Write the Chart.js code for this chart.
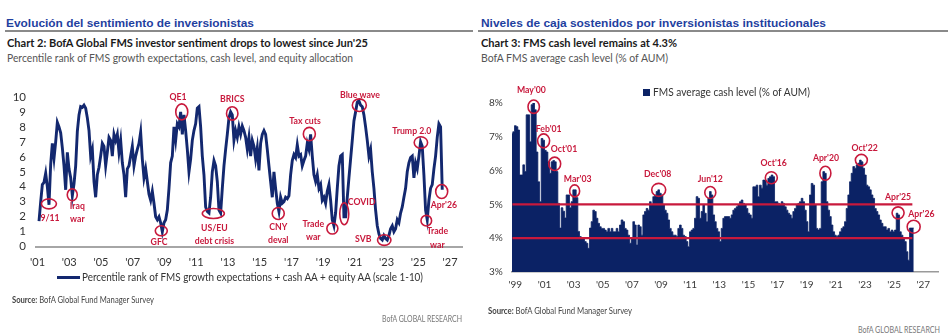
<!DOCTYPE html>
<html>
<head>
<meta charset="utf-8">
<script src="https://cdn.jsdelivr.net/npm/chart.js@4.4.1/dist/chart.umd.min.js"></script>
<style>
    body { margin: 0; width: 950px; height: 336px; position: relative; overflow: hidden; background: #fff; font-family: Lato, sans-serif; }
    .t { position: absolute; white-space: nowrap; line-height: 1; transform-origin: 0 50%; }
    .hdr { font-family: "Liberation Sans", Arial, sans-serif; font-weight: bold; font-size: 11.6px; color: #1f3f9f; top: 16.8px; }
    .ttl { font-weight: bold; font-size: 11.6px; color: #1a1a1a; top: 36.7px; }
    .sub { font-size: 11.6px; color: #555; top: 51.9px; }
    .src { font-size: 8.5px; color: #444; }
    .brand { font-size: 8.5px; color: #777; }
    .rule { position: absolute; top: 30px; height: 1.5px; background: #8a8a8a; }
    canvas { position: absolute; }
</style>
</head>
<body>

<div class="t hdr" style="left:6px" data-w="248">Evolución del sentimiento de inversionistas</div>
<div class="rule" style="left:5px;width:468px"></div>
<div class="t ttl" style="left:7px" data-w="361">Chart 2: BofA Global FMS investor sentiment drops to lowest since Jun'25</div>
<div class="t sub" style="left:7px" data-w="346">Percentile rank of FMS growth expectations, cash level, and equity allocation</div>

<div class="t hdr" style="left:481px" data-w="345">Niveles de caja sostenidos por inversionistas institucionales</div>
<div class="rule" style="left:478px;width:470px"></div>
<div class="t ttl" style="left:481px" data-w="196">Chart 3: FMS cash level remains at 4.3%</div>
<div class="t sub" style="left:481px" data-w="187">BofA FMS average cash level (% of AUM)</div>

<canvas id="sentChart" width="475" height="200" style="left:0;top:80px"></canvas>
<canvas id="cashChart" width="475" height="220" style="left:475px;top:80px"></canvas>

<!-- legends -->
<div style="position:absolute;left:57px;top:276px;width:23px;height:2.8px;background:#13286f"></div>
<div class="t" style="left:82px;top:271.2px;font-size:11px;color:#333" data-w="341">Percentile rank of FMS growth expectations + cash AA + equity AA (scale 1-10)</div>
<div style="position:absolute;left:643px;top:89px;width:7px;height:6.5px;background:#0b2265"></div>
<div class="t" style="left:653px;top:87px;font-size:10.5px;color:#333" data-w="157">FMS average cash level (% of AUM)</div>

<!-- sources -->
<div class="t src" style="left:12px;top:295.5px" data-w="142"><b>Source:</b> BofA Global Fund Manager Survey</div>
<div class="t brand" style="left:381.7px;top:314.5px" data-w="80">BofA GLOBAL RESEARCH</div>
<div class="t src" style="left:487.7px;top:306.5px" data-w="144"><b>Source:</b> BofA Global Fund Manager Survey</div>
<div class="t brand" style="left:858px;top:325.5px" data-w="82">BofA GLOBAL RESEARCH</div>

<script>
    'use strict';

    // ---- Chart 2: sentiment index (scale 0-10) ----
    var sentStart = 2001.095;   // first survey point, decimal year
    var sentStep = 0.105;       // spacing between the points read
    var sentValues = [
        1.7, 3.0, 4.15, 4.3, 4.9, 4.0, 2.8, 5.5, 6.9, 5.9, 7.0, 8.3, 8.0, 7.6, 6.6, 5.4, 3.8, 6.3, 5.2, 4.6,
        3.4, 4.2, 5.4, 7.7, 8.8, 9.35, 9.3, 9.45, 9.25, 8.6, 7.75, 6.05, 6.5, 4.35, 3.3, 4.8, 5.3,
        6.05, 6.9, 6.7, 5.4, 6.3, 7.3, 7.1, 6.05, 7.5, 7.1, 7.5, 6.3, 7.1, 5.6, 4.8, 3.3, 5.2, 5.4, 6.05, 6.7,
        5.4, 6.05, 6.5, 6.9, 7.65, 5.85, 4.6, 5.2, 4.35, 3.5, 3.1, 3.7, 2.9, 2.0, 1.8, 2.0, 1.6, 1.0, 1.6, 1.8,
        2.45, 3.9, 5.6, 6.05, 8.0, 7.1, 8.2, 8.0, 9.0, 7.5, 8.8, 7.75, 6.5, 5.0, 5.85, 7.1, 7.75, 8.2, 9.25, 9.35,
        8.0, 6.05, 4.8, 2.65, 2.35, 2.25, 3.3, 5.0, 5.75, 5.4, 4.35, 2.45, 2.25, 3.9, 5.4, 6.5, 7.5, 8.6, 9.0, 8.8,
        7.1, 7.75, 7.3, 8.0, 7.5, 8.05, 7.75, 7.3,
        6.5, 7.3, 6.05, 7.1, 6.7, 5.85, 6.6, 5.1, 6.9, 7.5, 7.75, 7.5, 6.5, 5.4, 4.35, 3.3, 5.0, 3.9, 2.9, 2.35,
        3.3, 2.9, 3.0, 3.3, 3.2, 3.4, 4.8, 5.75, 6.15, 5.95, 6.8, 6.05, 6.15, 5.4, 5.75, 6.05, 6.9, 6.5, 7.5, 6.05,
        4.8, 4.35, 4.8, 3.9, 4.15, 3.1, 3.3, 2.9, 3.7, 4.15, 3.1, 1.8, 1.4, 2.25, 3.9, 5.4, 6.05, 6.15, 2.0, 2.0,
        3.3, 4.6, 5.85, 7.1, 8.4, 9.0, 9.65, 9.75, 9.45, 9.35, 8.8, 8.0, 7.1, 6.05, 6.5, 5.0, 3.9, 2.45, 1.4, 0.85,
        0.55, 0.45, 0.75, 0.55, 0.45, 0.75, 1.2, 1.4, 1.0, 1.2, 1.8, 1.6, 2.25, 2.65, 3.3, 3.9, 5.0, 5.6, 5.95, 6.05,
        4.6, 5.6, 5.2, 6.05, 7.0, 6.7, 4.8, 2.45, 1.8, 3.1, 3.9, 4.15, 5.2, 6.05, 7.3, 8.2, 8.0, 3.8
    ];
    var sentTickYears = [2001, 2003, 2005, 2007, 2009, 2011, 2013, 2015, 2017, 2019, 2021, 2023, 2025, 2027];
    var sentTickLabels = ["'01", "'03", "'05", "'07", "'09", "'11", "'13", "'15", "'17", "'19", "'21", "'23", "'25", "'27"];
    var sentYTicks = [0, 1, 2, 3, 4, 5, 6, 7, 8, 9, 10];

    // events: text, year, level
    var sentEventText = ['9/11', 'Iraq\nwar', 'GFC', 'QE1', 'BRICS', 'US/EU\ndebt crisis', 'CNY\ndeval', 'Tax cuts',
        'Trade\nwar', 'COVID', 'Blue wave', 'SVB', 'Trump 2.0', 'Trade\nwar', "Apr'26"];
    var sentEventYear = [2001.72, 2003.19, 2008.8, 2010.09, 2013.27, 2012.08, 2016.17, 2018.13,
        2019.58, 2020.33, 2021.28, 2022.85, 2025.16, 2025.5, 2026.47];
    var sentEventLevel = [2.86, 3.46, 1.06, 9.0, 8.9, 2.22, 2.22, 7.52, 1.21, 2.2, 9.45, 0.44, 6.95, 1.74, 3.68];

    // ---- Chart 3: FMS average cash level (% of AUM) ----
    var cashStart = 1998.771;
    var cashStep = 0.11441;
    var cashValues = [
        7.1, 7.15, 7.33, 7.3, 7.2, 5.87, 5.87, 6.17, 5.97, 7.65, 7.65, 6.85, 7.95, 8.0, 7.8, 6.55, 5.67, 5.08, 6.95, 6.9,
        6.6, 6.55, 6.26, 5.92, 6.26, 6.3, 6.26, 5.97, 5.03, 4.3, 4.9, 4.8, 4.6, 5.28, 5.28, 4.9, 5.08, 5.43, 5.43, 5.2,
        4.2, 4.05, 4.0, 4.0, 3.9, 3.85, 3.7, 4.3, 4.49, 4.83, 4.79, 4.59, 4.44, 4.34, 4.29, 4.29, 4.24, 4.19, 4.29, 4.19,
        4.29, 4.19, 4.19, 4.29, 4.19, 4.39, 4.54, 4.49, 4.29, 4.24, 4.09, 3.85, 4.0, 4.49, 4.39, 3.8, 4.39, 4.34, 4.09, 4.69,
        4.79, 4.88, 4.83, 5.08, 4.98, 5.23, 5.28, 5.38, 5.43, 5.33, 5.28, 4.98, 4.83, 4.74, 4.54, 4.29, 4.19, 4.09, 4.09, 4.05,
        4.29, 4.39, 4.29, 4.09, 4.05, 3.9, 3.75, 4.19, 4.24, 4.29, 4.59, 5.23, 5.18, 4.59, 4.79, 4.98, 4.74, 4.49, 5.18, 5.38,
        5.28, 4.69, 4.49,
        4.29, 4.19, 3.9, 4.29, 4.59, 4.64, 4.64, 4.64, 4.59, 4.69, 4.83, 4.88, 4.93, 4.98, 5.08, 5.13, 5.03, 4.98, 4.88, 4.74,
        4.69, 4.59, 5.52, 5.52, 5.57, 5.23, 5.57, 5.48, 5.72, 5.72, 5.57, 5.77, 5.82, 5.87, 5.82, 5.08, 5.08, 5.03, 4.98, 5.08,
        5.03, 4.93, 4.83, 4.74, 4.69, 4.59, 4.79, 4.88, 4.98, 5.03, 5.08, 5.18, 5.08, 4.83, 4.49, 4.19, 5.28, 5.62, 5.57, 4.98,
        4.29, 4.24, 4.29, 5.67, 5.97, 5.92, 5.08, 4.83, 4.64, 4.39, 4.19, 4.09, 4.05, 4.09, 4.19, 4.29, 4.34, 4.49, 4.88, 5.28,
        5.67, 5.92, 6.12, 6.07, 6.17, 6.22, 6.31, 6.26, 6.07, 5.87, 5.57, 5.52, 5.43, 5.28, 5.18, 4.88, 4.79, 4.69, 4.54, 4.44,
        4.34, 4.34, 4.24, 4.29, 4.19, 4.24, 4.19, 4.24, 4.74, 4.69, 4.19, 4.09, 4.0, 3.9, 3.6, 3.35, 4.3, 4.3, 4.3
    ];
    var cashBands = [5, 4];              // red reference levels
    var cashBandFrom = 1998.8;
    var cashBandTo = 2026.25;
    var cashTickYears = [1999, 2001, 2003, 2005, 2007, 2009, 2011, 2013, 2015, 2017, 2019, 2021, 2023, 2025, 2027];
    var cashTickLabels = ["'99", "'01", "'03", "'05", "'07", "'09", "'11", "'13", "'15", "'17", "'19", "'21", "'23", "'25", "'27"];
    var cashYTicks = [3, 4, 5, 6, 7, 8];
    var cashYLabels = ['3%', '4%', '5%', '6%', '7%', '8%'];

    var cashEventText = ["May'00", "Feb'01", "Oct'01", "Mar'03", "Dec'08", "Jun'12", "Oct'16", "Apr'20", "Oct'22", "Apr'25", "Apr'26"];
    var cashEventYear = [2000.26, 2000.94, 2001.7, 2003.07, 2008.84, 2012.38, 2016.57, 2020.28, 2022.75, 2025.27, 2026.34];
    var cashEventLevel = [7.89, 6.88, 6.2, 5.4, 5.43, 5.35, 5.79, 5.92, 6.31, 4.75, 4.34];

    var NAVY = '#13286f';
    var BAR = '#0b2265';
    var RED = '#c8193c';
    var TICK_FONT = 'Lato, sans-serif';

    /**
     * Layout of the event marks: ring size and where its label sits,
     * as offsets in axis units from the event point.
     */
    var sentMarkLayout = [
        { rx: 7.5, ry: 5, dx: 0.07, dy: -0.91 },
        { rx: 5, ry: 6, dx: 0.32, dy: -0.7 },
        { rx: 6, ry: 5, dx: -0.14, dy: -0.74 },
        { rx: 6, ry: 8, dx: -0.24, dy: 1.02 },
        { rx: 5.7, ry: 6.7, dx: 0, dy: 0.99 },
        { rx: 11, ry: 5, dx: 0.07, dy: -0.95 },
        { rx: 6, ry: 6, dx: 0, dy: -0.89 },
        { rx: 6, ry: 6.7, dx: -0.27, dy: 0.88 },
        { rx: 5.5, ry: 5.5, dx: -1.2, dy: 0.34 },
        { rx: 4.5, ry: 11, dx: 1.1, dy: 0.81 },
        { rx: 7, ry: 6.3, dx: 0.04, dy: 0.66 },
        { rx: 6.7, ry: 5.3, dx: -1.32, dy: 0.09 },
        { rx: 6.7, ry: 5.8, dx: -0.57, dy: 0.76 },
        { rx: 5.3, ry: 5.3, dx: 0.7, dy: -0.7 },
        { rx: 6, ry: 7, dx: 0.14, dy: -0.86 }
    ];
    var cashMarkLayout = [
        { rx: 5.7, ry: 6.7, dx: -0.16, dy: 0.49 },
        { rx: 6, ry: 7, dx: 0.35, dy: 0.37 },
        { rx: 6, ry: 6.7, dx: 0.64, dy: 0.44 },
        { rx: 5, ry: 6, dx: 0.21, dy: 0.37 },
        { rx: 7, ry: 6.5, dx: -0.07, dy: 0.49 },
        { rx: 5.5, ry: 6, dx: 0, dy: 0.42 },
        { rx: 6, ry: 6, dx: 0.16, dy: 0.43 },
        { rx: 5.5, ry: 7, dx: 0.04, dy: 0.47 },
        { rx: 6, ry: 5.7, dx: 0.22, dy: 0.37 },
        { rx: 6, ry: 6, dx: 0, dy: 0.48 },
        { rx: 6.5, ry: 6.5, dx: 0.53, dy: 0.37 }
    ];

    /**
     * Build plugin options for the event marks
     */
    function buildMarks(text, years, levels, layout) {
        return text.map(function(t, i) {
            return {
                text: t, x: years[i], y: levels[i],
                rx: layout[i].rx, ry: layout[i].ry,
                lx: years[i] + layout[i].dx, ly: levels[i] + layout[i].dy
            };
        });
    }

    // Red rings + labels, placed through the chart scales
    var eventPlugin = {
        id: 'events',
        afterDatasetsDraw: function(chart, args, opts) {
            var ctx = chart.ctx;
            var xs = chart.scales.x;
            var ys = chart.scales.y;
            ctx.save();
            ctx.strokeStyle = RED;
            ctx.fillStyle = RED;
            ctx.lineWidth = 1.6;
            ctx.font = 'bold ' + opts.size + 'px Lato, sans-serif';
            ctx.textAlign = 'center';
            ctx.textBaseline = 'middle';
            (opts.marks || []).forEach(function(m) {
                ctx.beginPath();
                ctx.ellipse(xs.getPixelForValue(m.x), ys.getPixelForValue(m.y), m.rx, m.ry, 0, 0, Math.PI * 2);
                ctx.stroke();

                var lines = m.text.split('\n');
                var px = xs.getPixelForValue(m.lx);
                var py = ys.getPixelForValue(m.ly);
                lines.forEach(function(line, k) {
                    ctx.save();
                    ctx.translate(px, py + k * opts.lineGap);
                    ctx.scale(0.87, 1);
                    ctx.fillText(line, 0, 0);
                    ctx.restore();
                });
            });
            ctx.restore();
        }
    };

    function tickSetter(values) {
        return function(scale) {
            scale.ticks = values.map(function(v) { return { value: v }; });
        };
    }

    function labelFor(values, labels) {
        return function(v) {
            var i = values.indexOf(v);
            return i >= 0 ? labels[i] : '';
        };
    }

    function initSentChart() {
        var points = sentValues.map(function(v, i) {
            return { x: sentStart + i * sentStep, y: v };
        });
        new Chart(document.getElementById('sentChart'), {
            type: 'line',
            data: {
                datasets: [{
                    data: points,
                    borderColor: NAVY,
                    borderWidth: 2.9,
                    pointRadius: 0,
                    tension: 0,
                    fill: false
                }]
            },
            options: {
                responsive: false,
                animation: false,
                devicePixelRatio: 1,
                layout: { padding: { top: 9.3, right: 13, left: 0, bottom: 0 } },
                scales: {
                    x: {
                        type: 'linear',
                        min: 2000.905,
                        max: 2027.75,
                        grid: { display: false, drawTicks: false },
                        border: { display: true, color: '#a6a6a6', width: 2 },
                        afterBuildTicks: tickSetter(sentTickYears),
                        afterFit: function(s) { s.height = 33.3; },
                        ticks: {
                            autoSkip: false,
                            maxRotation: 0,
                            padding: 9,
                            color: '#333',
                            font: { family: TICK_FONT, size: 11 },
                            callback: labelFor(sentTickYears, sentTickLabels)
                        }
                    },
                    y: {
                        min: 0,
                        max: 10,
                        grid: { display: false, drawTicks: false },
                        border: { display: false },
                        afterBuildTicks: tickSetter(sentYTicks),
                        afterFit: function(s) { s.width = 36; },
                        ticks: {
                            autoSkip: false,
                            padding: 10,
                            color: '#333',
                            font: { family: TICK_FONT, size: 11.5 }
                        }
                    }
                },
                plugins: {
                    legend: { display: false },
                    tooltip: { enabled: false },
                    events: {
                        size: 10,
                        lineGap: 13.4,
                        marks: buildMarks(sentEventText, sentEventYear, sentEventLevel, sentMarkLayout)
                    }
                }
            },
            plugins: [eventPlugin]
        });
    }

    function initCashChart() {
        var bars = cashValues.map(function(v, i) {
            return { x: cashStart + i * cashStep, y: v };
        });
        var bandSets = cashBands.map(function(level) {
            return {
                data: [{ x: cashBandFrom, y: level }, { x: cashBandTo, y: level }],
                borderColor: RED,
                borderWidth: 2.3,
                pointRadius: 0,
                fill: false,
                order: 0
            };
        });
        new Chart(document.getElementById('cashChart'), {
            type: 'line',
            data: {
                datasets: bandSets.concat([{
                    data: bars,
                    stepped: 'middle',
                    borderColor: BAR,
                    borderWidth: 0.8,
                    backgroundColor: BAR,
                    pointRadius: 0,
                    fill: 'start',
                    order: 5
                }])
            },
            options: {
                responsive: false,
                animation: false,
                devicePixelRatio: 1,
                layout: { padding: { top: 23, right: 12, left: 0, bottom: 0 } },
                scales: {
                    x: {
                        type: 'linear',
                        min: 1998.75,
                        max: 2028.01,
                        grid: { display: false, drawTicks: false },
                        border: { display: true, color: '#9a9a9a', width: 1.5 },
                        afterBuildTicks: tickSetter(cashTickYears),
                        afterFit: function(s) { s.height = 28; },
                        ticks: {
                            autoSkip: false,
                            maxRotation: 0,
                            padding: 7,
                            color: '#3a3a3a',
                            font: { family: TICK_FONT, size: 10 },
                            callback: labelFor(cashTickYears, cashTickLabels)
                        }
                    },
                    y: {
                        min: 3,
                        max: 8,
                        grid: { display: false, drawTicks: false },
                        border: { display: false },
                        afterBuildTicks: tickSetter(cashYTicks),
                        afterFit: function(s) { s.width = 36.7; },
                        ticks: {
                            autoSkip: false,
                            padding: 9,
                            color: '#3a3a3a',
                            font: { family: TICK_FONT, size: 10 },
                            callback: labelFor(cashYTicks, cashYLabels)
                        }
                    }
                },
                plugins: {
                    legend: { display: false },
                    tooltip: { enabled: false },
                    events: {
                        size: 10,
                        lineGap: 12,
                        marks: buildMarks(cashEventText, cashEventYear, cashEventLevel, cashMarkLayout)
                    }
                }
            },
            plugins: [eventPlugin]
        });
    }

    // Squeeze HTML text to the widths measured on the reference
    function fitTexts() {
        document.querySelectorAll('[data-w]').forEach(function(el) {
            var w = el.getBoundingClientRect().width;
            if (w > 0) {
                el.style.transform = 'scaleX(' + (parseFloat(el.dataset.w) / w) + ')';
            }
        });
    }

    fitTexts();
    initSentChart();
    initCashChart();
</script>
</body>
</html>
